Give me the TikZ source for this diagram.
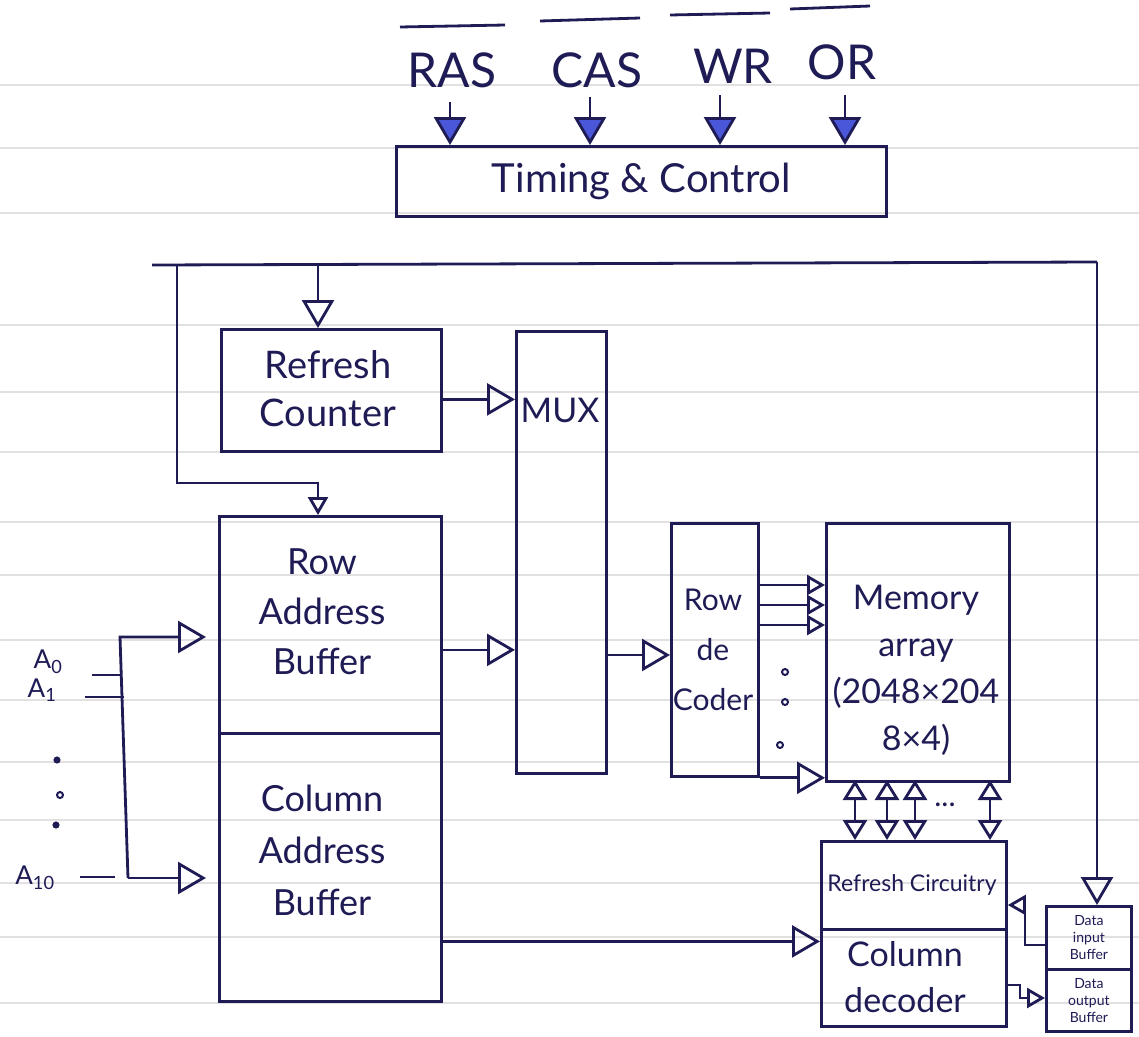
\documentclass[tikz,border=0pt]{standalone}
\usepackage{fontspec}
\setmainfont{Lato}
\usetikzlibrary{arrows.meta,calc}
\definecolor{ink}{HTML}{1E1B55}
\definecolor{fillblue}{HTML}{4A57D8}
\definecolor{ruled}{HTML}{E2E0E0}
\begin{document}
\begin{tikzpicture}[x=1pt,y=-1pt,
  box/.style={draw=ink,line width=2.8pt,anchor=north west,inner sep=0pt},
  lbl/.style={text=ink,align=center,inner sep=0pt},
  ln/.style={draw=ink,line width=2.8pt},
  oa/.style={ln,-{Triangle[open,length=28pt,width=32pt]}},
  soa/.style={ln,-{Triangle[open,length=18pt,width=20pt]}},
  ba/.style={ln,{Triangle[open,length=20pt,width=24pt]}-{Triangle[open,length=20pt,width=24pt]}},
  fa/.style={ln,-{Triangle[fill=fillblue,length=28pt,width=32pt]}},
  dotc/.style={draw=ink,line width=2pt,circle,inner sep=0pt,minimum size=6pt}
]
\useasboundingbox[fill=white] (0,0) rectangle (1139,1036);
% ruled notebook lines
\foreach \yy in {85,148,213,325,392,452,522,575,640,700,762,820,883,937,1003}
  \draw[ruled,line width=1.2pt] (0,\yy) -- (1139,\yy);

% control signals
\node[lbl,font=\fontsize{48}{50}\selectfont] (ras) at (452,70) {RAS};
\node[lbl,font=\fontsize{48}{50}\selectfont] (cas) at (597,70) {CAS};
\node[lbl,font=\fontsize{48}{50}\selectfont] (wr) at (733,66) {WR};
\node[lbl,font=\fontsize{48}{50}\selectfont] (orr) at (842,62) {OR};
\draw[ln] (400,27) -- (505,25);
\draw[ln] (540,21) -- (640,18);
\draw[ln] (670,15) -- (770,13);
\draw[ln] (790,9) -- (870,6);

\node[box,minimum width=490pt,minimum height=70pt] (tc) at (395,145) {};
\node[lbl,font=\fontsize{40}{44}\selectfont] at (tc.center) {Timing \& Control};

\coordinate (s1) at (450,102);
\coordinate (s2) at (590,97);
\coordinate (s3) at (720,95);
\coordinate (s4) at (845,95);
\draw[fa] (s1) -- (s1 |- tc.north);
\draw[fa] (s2) -- (s2 |- tc.north);
\draw[fa] (s3) -- (s3 |- tc.north);
\draw[fa] (s4) -- (s4 |- tc.north);

% blocks
\node[box,minimum width=220pt,minimum height=122pt] (rc) at (220,328) {};
\node[lbl,font=\fontsize{38}{48}\selectfont] at (328,389) {Refresh\\Counter};

\node[box,minimum width=90pt,minimum height=442pt] (mux) at (515,330) {};
\node[lbl,font=\fontsize{34}{40}\selectfont] at (560,410) {MUX};

\node[box,minimum width=222pt,minimum height=217pt] (rab) at (218,515) {};
\node[lbl,font=\fontsize{36}{50}\selectfont] at (322,612) {Row\\Address\\Buffer};
\node[box,minimum width=222pt,minimum height=268pt] (cab) at (218,732) {};
\node[lbl,font=\fontsize{36}{52}\selectfont] at (322,850) {Column\\Address\\Buffer};

\node[box,minimum width=87pt,minimum height=253pt] (rd) at (670,522) {};
\node[lbl,font=\fontsize{30}{50}\selectfont] at (713,650) {Row\\de\\Coder};

\node[box,minimum width=183pt,minimum height=258pt] (mem) at (825,522) {};
\node[lbl,font=\fontsize{34}{47}\selectfont] at (916,670) {Memory\\array\\(2048×204\\8×4)};

\node[box,minimum width=185pt,minimum height=88pt] (rcc) at (820,840) {};
\node[lbl,font=\fontsize{23}{28}\selectfont] at (912,885) {Refresh Circuitry};
\node[box,minimum width=185pt,minimum height=97pt] (cd) at (820,928) {};
\node[lbl,font=\fontsize{34}{46}\selectfont] at (905,977) {Column\\decoder};

\node[box,minimum width=85pt,minimum height=63pt] (dib) at (1045,905) {};
\node[lbl,font=\fontsize{14}{17}\selectfont] at (dib.center) {Data\\input\\Buffer};
\node[box,minimum width=85pt,minimum height=62pt] (dob) at (1045,968) {};
\node[lbl,font=\fontsize{14}{17}\selectfont] at (dob.center) {Data\\output\\Buffer};

% top bus and feedback
\coordinate (busL) at (152,265);
\coordinate (busR) at (1097,262);
\coordinate (lv) at (177,265);
\coordinate (lb) at (177,483);
\coordinate (lbr) at (318,483);
\coordinate (br) at (318,265);
\draw[ln] (busL) -- (busR);
\draw[oa] (busR) -- (busR |- dib.north);
\draw[oa] (br) -- (br |- rc.north);
\draw[soa] (lv) -- (lb) -- (lbr) -- (lbr |- rab.north);

% data path
\coordinate (p1) at ($(rc.east)+(0,9)$);
\coordinate (p2) at ($(rab.east)+(0,25)$);
\coordinate (p3) at (605,655);
\coordinate (p4) at ($(cab.east)+(0,74)$);
\draw[oa] (p1) -- (p1 -| mux.west);
\draw[oa] (p2) -- (p2 -| mux.west);
\draw[oa] (p3) -- (p3 -| rd.west);
\coordinate (q1) at (760,585);
\coordinate (q2) at (760,605);
\coordinate (q3) at (760,625);
\draw[soa] (q1) -- (q1 -| mem.west);
\draw[soa] (q2) -- (q2 -| mem.west);
\draw[soa] (q3) -- (q3 -| mem.west);
\node[dotc] (d1) at (785,672) {};
\node[dotc] (d2) at (785,702) {};
\node[dotc] (d3) at (780,745) {};
\draw[oa] (rd.south east) -- (rd.south east -| mem.west);

\draw[ba] (855,780) -- (855,840);
\draw[ba] (887,780) -- (887,840);
\draw[ba] (915,780) -- (915,840);
\draw[ba] (990,780) -- (990,840);
\node[lbl,font=\fontsize{30}{30}\selectfont] at (945,805) {...};

\draw[oa] (p4) -- (p4 -| cd.west);

% data buffers
\coordinate (r1) at (1025,905);
\coordinate (r2) at (1020,998);
\draw[soa] (1045,945) -- (1025,945) -- (r1) -- (r1 -| rcc.east);
\draw[soa] (1005,985) -- (1020,985) -- (r2) -- (r2 -| dob.west);

% address inputs
\node[lbl,font=\fontsize{26}{28}\selectfont] (a0) at (48,662) {A\textsubscript{0}};
\node[lbl,font=\fontsize{26}{28}\selectfont] (a1) at (42,690) {A\textsubscript{1}};
\node[lbl,font=\fontsize{26}{28}\selectfont] (a10) at (35,878) {A\textsubscript{10}};
\node[dotc,minimum size=5pt,fill=ink] (ad1) at (57,760) {};
\node[dotc,minimum size=6pt] (ad2) at (60,795) {};
\node[dotc,minimum size=5pt,fill=ink] (ad3) at (56,825) {};
\coordinate (bt) at (120,637);
\coordinate (bb) at (128,878);
\draw[ln] (92,675) -- (122,675);
\draw[ln] (85,697) -- (124,697);
\draw[ln] (80,877) -- (115,877);
\draw[oa,shorten >=12pt] (bb) -- (bt) -- (bt -| rab.west);
\draw[oa,shorten >=12pt] (bb) -- (bb -| cab.west);
\end{tikzpicture}
\end{document}
